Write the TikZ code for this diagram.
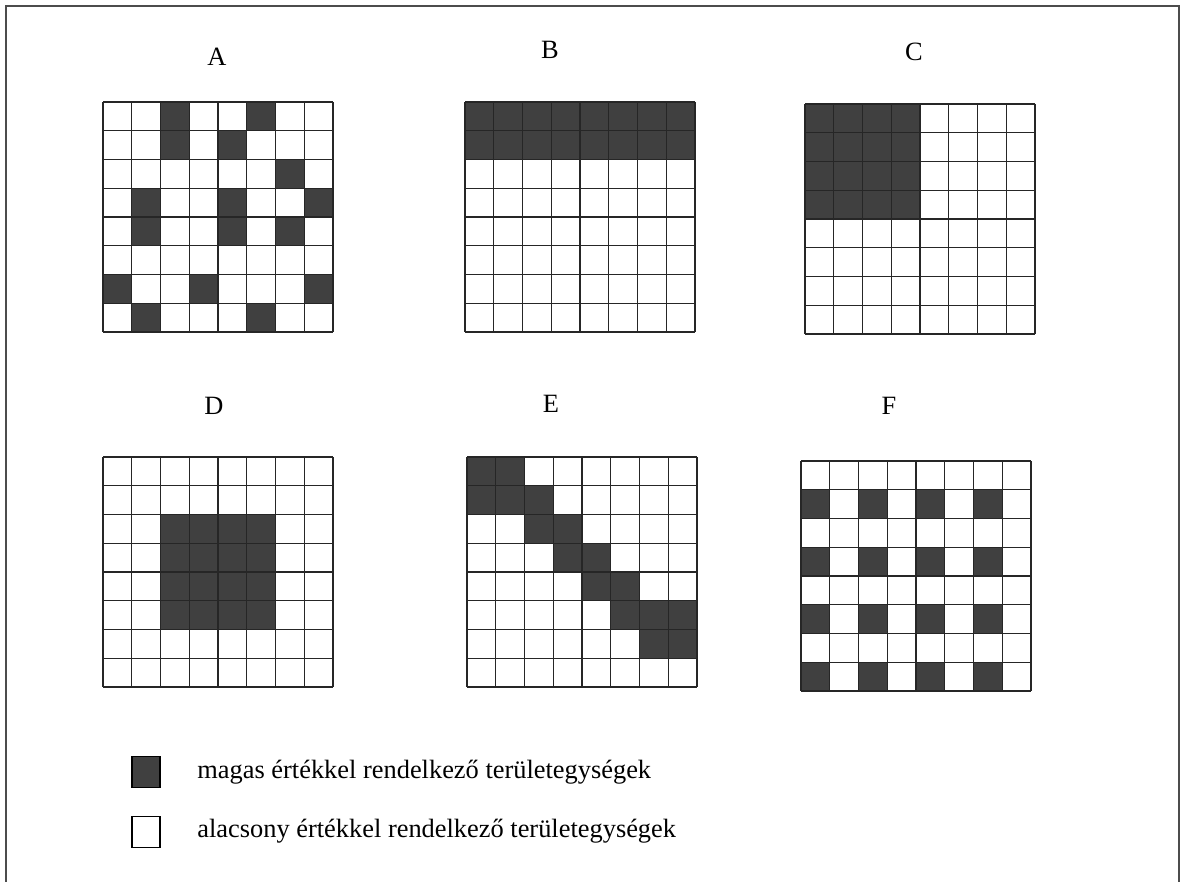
\documentclass[tikz,border=0pt]{standalone}
\usepackage{fontspec}
\setmainfont{Liberation Serif}
\usetikzlibrary{positioning,calc}
\definecolor{highfill}{HTML}{404040}
% one 8x8 panel: #1 = top left corner, #2 = dark cells as col/row
\newcommand{\areagrid}[2]{%
  \foreach \c/\r in {#2} {\fill[highfill] ($(#1)+(\c*28.75,\r*28.75)$) rectangle ++(28.75,28.75);}
  \foreach \i in {0,...,8} {\draw[cellline] ($(#1)+(\i*28.75,0)$) -- ++(0,230);
    \draw[cellline] ($(#1)+(0,\i*28.75)$) -- ++(230,0);}
}
\begin{document}
\begin{tikzpicture}[x=0.5pt,y=-0.5pt,node distance=7mm and 10mm,
 cellline/.style={line width=0.55pt,black!85},
 panellabel/.style={font=\fontsize{13.2}{15}\selectfont,inner sep=0pt},
 keybox/.style={draw,line width=0.6pt,minimum width=14pt,minimum height=15.5pt,inner sep=0pt},
 keytext/.style={font=\fontsize{13.2}{15}\selectfont,anchor=west,inner sep=0pt}]
\useasboundingbox (0,0) rectangle (1184,882);
\draw[line width=0.8pt,black!70] (6,882) -- (6,6) -- (1179,6) -- (1179,882);
\node[panellabel] (labA) at (217,57) {A};
\node[panellabel] (labB) at (550,50) {B};
\node[panellabel] (labC) at (914,52) {C};
\node[panellabel] (labD) at (214,406) {D};
\node[panellabel] (labE) at (551,404) {E};
\node[panellabel] (labF) at (889,406) {F};
\coordinate (gridA) at (103,102);
\coordinate (gridB) at (465,102);
\coordinate (gridC) at (805,104);
\coordinate (gridD) at (103,457);
\coordinate (gridE) at (467,457);
\coordinate (gridF) at (801,461);
\areagrid{gridA}{2/0,5/0,2/1,4/1,6/2,1/3,4/3,7/3,1/4,4/4,6/4,0/6,3/6,7/6,1/7,5/7}
\areagrid{gridB}{0/0,1/0,2/0,3/0,4/0,5/0,6/0,7/0,0/1,1/1,2/1,3/1,4/1,5/1,6/1,7/1}
\areagrid{gridC}{0/0,1/0,2/0,3/0,0/1,1/1,2/1,3/1,0/2,1/2,2/2,3/2,0/3,1/3,2/3,3/3}
\areagrid{gridD}{2/2,3/2,4/2,5/2,2/3,3/3,4/3,5/3,2/4,3/4,4/4,5/4,2/5,3/5,4/5,5/5}
\areagrid{gridE}{0/0,1/0,0/1,1/1,2/1,2/2,3/2,3/3,4/3,4/4,5/4,5/5,6/5,7/5,6/6,7/6}
\areagrid{gridF}{0/1,2/1,4/1,6/1,0/3,2/3,4/3,6/3,0/5,2/5,4/5,6/5,0/7,2/7,4/7,6/7}
% legend
\node[keybox,fill=highfill] (keyhigh) at (146,772) {};
\node[keybox] (keylow) at (146,832) {};
\node[keytext] (txthigh) at (197,772) {magas értékkel rendelkező területegységek};
\node[keytext] (txtlow) at (197,831) {alacsony értékkel rendelkező területegységek};
\end{tikzpicture}
\end{document}
